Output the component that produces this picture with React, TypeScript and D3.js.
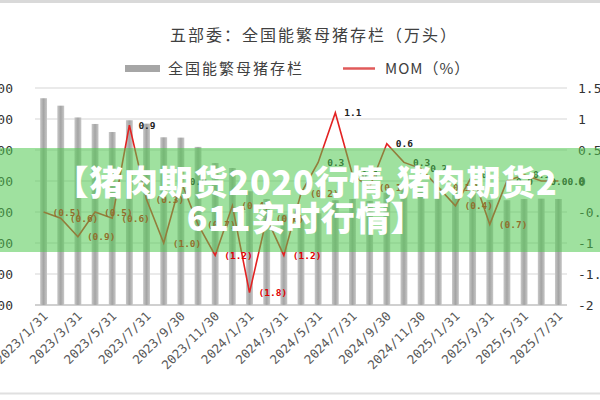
import React from "react";
import * as d3 from "d3";

const months: string[] = [
  "2023/1/31", "2023/2/28", "2023/3/31", "2023/4/30", "2023/5/31", "2023/6/30",
  "2023/7/31", "2023/8/31", "2023/9/30", "2023/10/31", "2023/11/30", "2023/12/31",
  "2024/1/31", "2024/2/29", "2024/3/31", "2024/4/30", "2024/5/31", "2024/6/30",
  "2024/7/31", "2024/8/31", "2024/9/30", "2024/10/31", "2024/11/30", "2024/12/31",
  "2025/1/31", "2025/2/28", "2025/3/31", "2025/4/30", "2025/5/31", "2025/6/30",
  "2025/7/31",
];

// 全国能繁母猪存栏（万头）
const inventory: number[] = [
  4367, 4343, 4305, 4284, 4258, 4296, 4285, 4241, 4240, 4210, 4158, 4142,
  4067, 4042, 3992, 3986, 3996, 4038, 4042, 4036, 4062, 4073, 4080, 4078,
  4062, 4066, 4039, 4038, 4042, 4043, 4042,
];

// MOM (%)
const mom: number[] = [
  -0.5, -0.6, -0.9, -0.5, -0.6, 0.9, -0.3, -1.0, 0.0, -0.7, -1.2, -0.4,
  -1.8, -0.6, -1.2, -0.2, 0.3, 1.1, 0.1, -0.1, 0.6, 0.3, 0.2, -0.1,
  -0.4, 0.1, -0.7, 0.0, 0.1, 0.0, 0.0,
];

const leftTicks: number[] = [3700, 3800, 3900, 4000, 4100, 4200, 4300, 4400];
const rightTicks: number[] = [-2, -1.5, -1, -0.5, 0, 0.5, 1, 1.5];

const title = "五部委：全国能繁母猪存栏（万头）";
const legendBar = "全国能繁母猪存栏";
const legendLine = "MOM（%）";
const bannerLines: string[] = ["【猪肉期货2020行情,猪肉期货2", "611实时行情】"];

export default function App() {
  const W = 600;
  const H = 400;
  const x = d3.scaleBand<string>().domain(months).range([35, 567]).paddingInner(0.6).paddingOuter(0.3);
  const yL = d3.scaleLinear().domain([3700, 4400]).range([305, 88]);
  const yR = d3.scaleLinear().domain([-2, 1.5]).range([305, 88]);
  const xc = (m: string) => (x(m) as number) + x.bandwidth() / 2;

  const line = d3
    .line<number>()
    .x((_, i) => xc(months[i]))
    .y((d) => yR(d));

  const fmt = (v: number) => (v < 0 ? `(${Math.abs(v).toFixed(1)})` : v.toFixed(1));
  const mono = "'DejaVu Sans Mono', 'Liberation Mono', monospace";
  const cjk = "'Noto Sans CJK SC', 'Noto Sans', sans-serif";

  return (
    <svg
      width={W}
      height={H}
      viewBox={`0 0 ${W} ${H}`}
      style={{ position: "fixed", left: 0, top: 0, background: "#fff" }}
    >
      <defs>
        <linearGradient id="barGrad" x1="0" x2="1" y1="0" y2="0">
          <stop offset="0%" stopColor="#c8c8c8" />
          <stop offset="50%" stopColor="#a4a4a4" />
          <stop offset="100%" stopColor="#c8c8c8" />
        </linearGradient>
      </defs>
      <rect x={0} y={0} width={W} height={H} fill="#fff" />
      <line x1={0} x2={W} y1={1.5} y2={1.5} stroke="#d9d9d9" strokeWidth={3} />
      <line x1={0} x2={W} y1={393.5} y2={393.5} stroke="#e0e0e0" strokeWidth={2} />

      {/* title */}
      <text x={314} y={41} textAnchor="middle" fontFamily={cjk} fontSize={16} letterSpacing={2} fill="#404040">
        {title}
      </text>

      {/* legend */}
      <rect x={125} y={65} width={35} height={7} fill="#a6a6a6" />
      <text x={168} y={74} fontFamily={cjk} fontSize={15} letterSpacing={2} fill="#404040">
        {legendBar}
      </text>
      <line x1={343} x2={375} y1={68.5} y2={68.5} stroke="#e05a5a" strokeWidth={2.5} />
      <text x={385} y={74} fontFamily={cjk} fontSize={15} letterSpacing={1} fill="#404040">
        {legendLine}
      </text>

      {/* gridlines */}
      {leftTicks.map((t) => (
        <line
          key={t}
          x1={35}
          x2={567}
          y1={yL(t)}
          y2={yL(t)}
          stroke={t === 3700 ? "#d0d0d0" : "#e3e3e3"}
          strokeWidth={t === 3700 ? 2 : 1.5}
        />
      ))}

      {/* left axis labels */}
      {leftTicks.map((t) => (
        <text key={t} x={13} y={yL(t) + 4.5} textAnchor="end" fontFamily={mono} fontSize={13} fill="#333">
          {d3.format(",")(t)}
        </text>
      ))}

      {/* right axis labels */}
      {rightTicks.map((t) => (
        <text key={t} x={578} y={yR(t) + 4.5} textAnchor="start" fontFamily={mono} fontSize={13} fill="#333">
          {String(t)}
        </text>
      ))}

      {/* bars */}
      {inventory.map((v, i) => (
        <rect
          key={months[i]}
          x={x(months[i]) as number}
          y={yL(v)}
          width={x.bandwidth()}
          height={yL(3700) - yL(v)}
          fill="url(#barGrad)"
        />
      ))}

      {/* MOM line */}
      <path d={line(mom) || ""} fill="none" stroke="#e32222" strokeWidth={1.6} />

      {/* data labels */}
      {mom.map((v, i) => (
        <text
          key={months[i]}
          x={xc(months[i]) + 9}
          y={yR(v) + 3.5}
          fontFamily={mono}
          fontSize={9.5}
          fontWeight="bold"
          fill={v < 0 ? "#e00000" : "#222"}
        >
          {fmt(v)}
        </text>
      ))}

      {/* x axis labels */}
      {months.map((m, i) =>
        i % 2 === 0 ? (
          <text
            key={m}
            transform={`translate(${xc(m) + 5},${317}) rotate(-45)`}
            textAnchor="end"
            fontFamily={mono}
            fontSize={12.5}
            fill="#595959"
          >
            {m}
          </text>
        ) : null
      )}

      {/* banner overlay */}
      <rect x={0} y={148} width={W} height={104} fill="rgba(80,200,80,0.55)" />
      {bannerLines.map((t, i) => (
        <text
          key={i}
          x={306}
          y={195 + i * 36}
          textAnchor="middle"
          fontFamily={cjk}
          fontWeight={900}
          fontSize={34}
          letterSpacing={0.8}
          fill="#fff"
        >
          {t}
        </text>
      ))}
    </svg>
  );
}
